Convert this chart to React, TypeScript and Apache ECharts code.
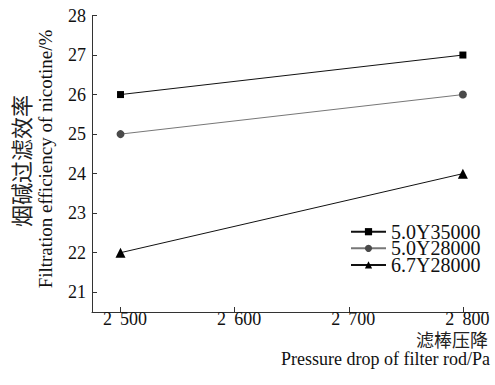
import React, { useEffect, useRef } from "react";
import * as echarts from "echarts";

const pressureDrops = [2500, 2800];
const seriesNames = ["5.0Y35000", "5.0Y28000", "6.7Y28000"];
const efficiency35000 = [26, 27];
const efficiency28000 = [25, 26];
const efficiency67 = [22, 24];
const xTicks = [2500, 2600, 2700, 2800];
const yTicks = [21, 22, 23, 24, 25, 26, 27, 28];

const SERIF = "Liberation Serif";
const CJK = "Noto Sans CJK SC";

export default function App() {
  const ref = useRef<HTMLDivElement>(null);
  useEffect(() => {
    if (!ref.current) return;
    const chart = echarts.init(ref.current, null, { renderer: "svg" });
    const pair = (vals: number[]) => pressureDrops.map((x, i) => [x, vals[i]]);
    const axisColor = "#333";
    chart.setOption({
      animation: false,
      backgroundColor: "#fff",
      grid: { left: 92, right: 7, top: 15.5, bottom: 73 },
      xAxis: {
        type: "value",
        min: 2475,
        max: 2822,
        splitLine: { show: false },
        axisLine: { show: true, lineStyle: { color: axisColor, width: 1 } },
        axisTick: { show: true, inside: true, length: 5, customValues: xTicks, lineStyle: { color: axisColor } },
        axisLabel: {
          customValues: xTicks,
          color: "#111",
          fontFamily: SERIF,
          fontSize: 18,
          margin: -2,
          formatter: (v: number) => {
            const s = String(Math.round(v));
            return "\u00a0\u00a0" + s.slice(0, s.length - 3) + "\u00a0\u2009" + s.slice(s.length - 3);
          },
        },
      },
      yAxis: {
        type: "value",
        min: 20.5,
        max: 28,
        splitLine: { show: false },
        axisLine: { show: true, lineStyle: { color: axisColor, width: 1 } },
        axisTick: { show: true, inside: true, length: 5, customValues: yTicks, lineStyle: { color: axisColor } },
        axisLabel: {
          customValues: yTicks,
          color: "#111",
          fontFamily: SERIF,
          fontSize: 18,
          margin: 6,
        },
      },
      legend: {
        orient: "vertical",
        left: 350,
        top: 221.7,
        padding: 0,
        itemWidth: 35,
        itemHeight: 9,
        itemGap: -3.4,
        textStyle: { fontFamily: SERIF, fontSize: 20, color: "#111" },
        data: seriesNames,
      },
      series: [
        {
          name: seriesNames[0],
          type: "line",
          data: pair(efficiency35000),
          symbol: "rect",
          symbolSize: 7,
          lineStyle: { color: "#111", width: 1 },
          itemStyle: { color: "#000" },
        },
        {
          name: seriesNames[1],
          type: "line",
          data: pair(efficiency28000),
          symbol: "circle",
          symbolSize: 8,
          lineStyle: { color: "#777", width: 1 },
          itemStyle: { color: "#4a4a4a" },
        },
        {
          name: seriesNames[2],
          type: "line",
          data: pair(efficiency67),
          symbol: "triangle",
          symbolSize: 10,
          lineStyle: { color: "#111", width: 1 },
          itemStyle: { color: "#000" },
        },
      ],
      graphic: [
        {
          type: "text",
          x: 20,
          y: 161,
          rotation: Math.PI / 2,
          style: {
            text: "烟碱过滤效率",
            fontFamily: CJK,
            fontSize: 22,
            fill: "#222",
            align: "center",
            verticalAlign: "middle",
          },
        },
        {
          type: "text",
          x: 45,
          y: 159,
          rotation: Math.PI / 2,
          style: {
            text: "Filtration efficiency of nicotine/%",
            fontFamily: SERIF,
            fontSize: 19,
            fill: "#111",
            align: "center",
            verticalAlign: "middle",
          },
        },
        {
          type: "text",
          x: 488,
          y: 338.5,
          style: {
            text: "滤棒压降",
            fontFamily: CJK,
            fontSize: 18,
            fill: "#222",
            align: "right",
            verticalAlign: "middle",
          },
        },
        {
          type: "text",
          x: 490,
          y: 359,
          style: {
            text: "Pressure drop of filter rod/Pa",
            fontFamily: SERIF,
            fontSize: 18,
            fill: "#111",
            align: "right",
            verticalAlign: "middle",
          },
        },
      ],
    });
    return () => chart.dispose();
  }, []);
  return (
    <div
      ref={ref}
      style={{ position: "fixed", left: 0, top: 0, width: 495, height: 385, background: "#fff" }}
    />
  );
}
